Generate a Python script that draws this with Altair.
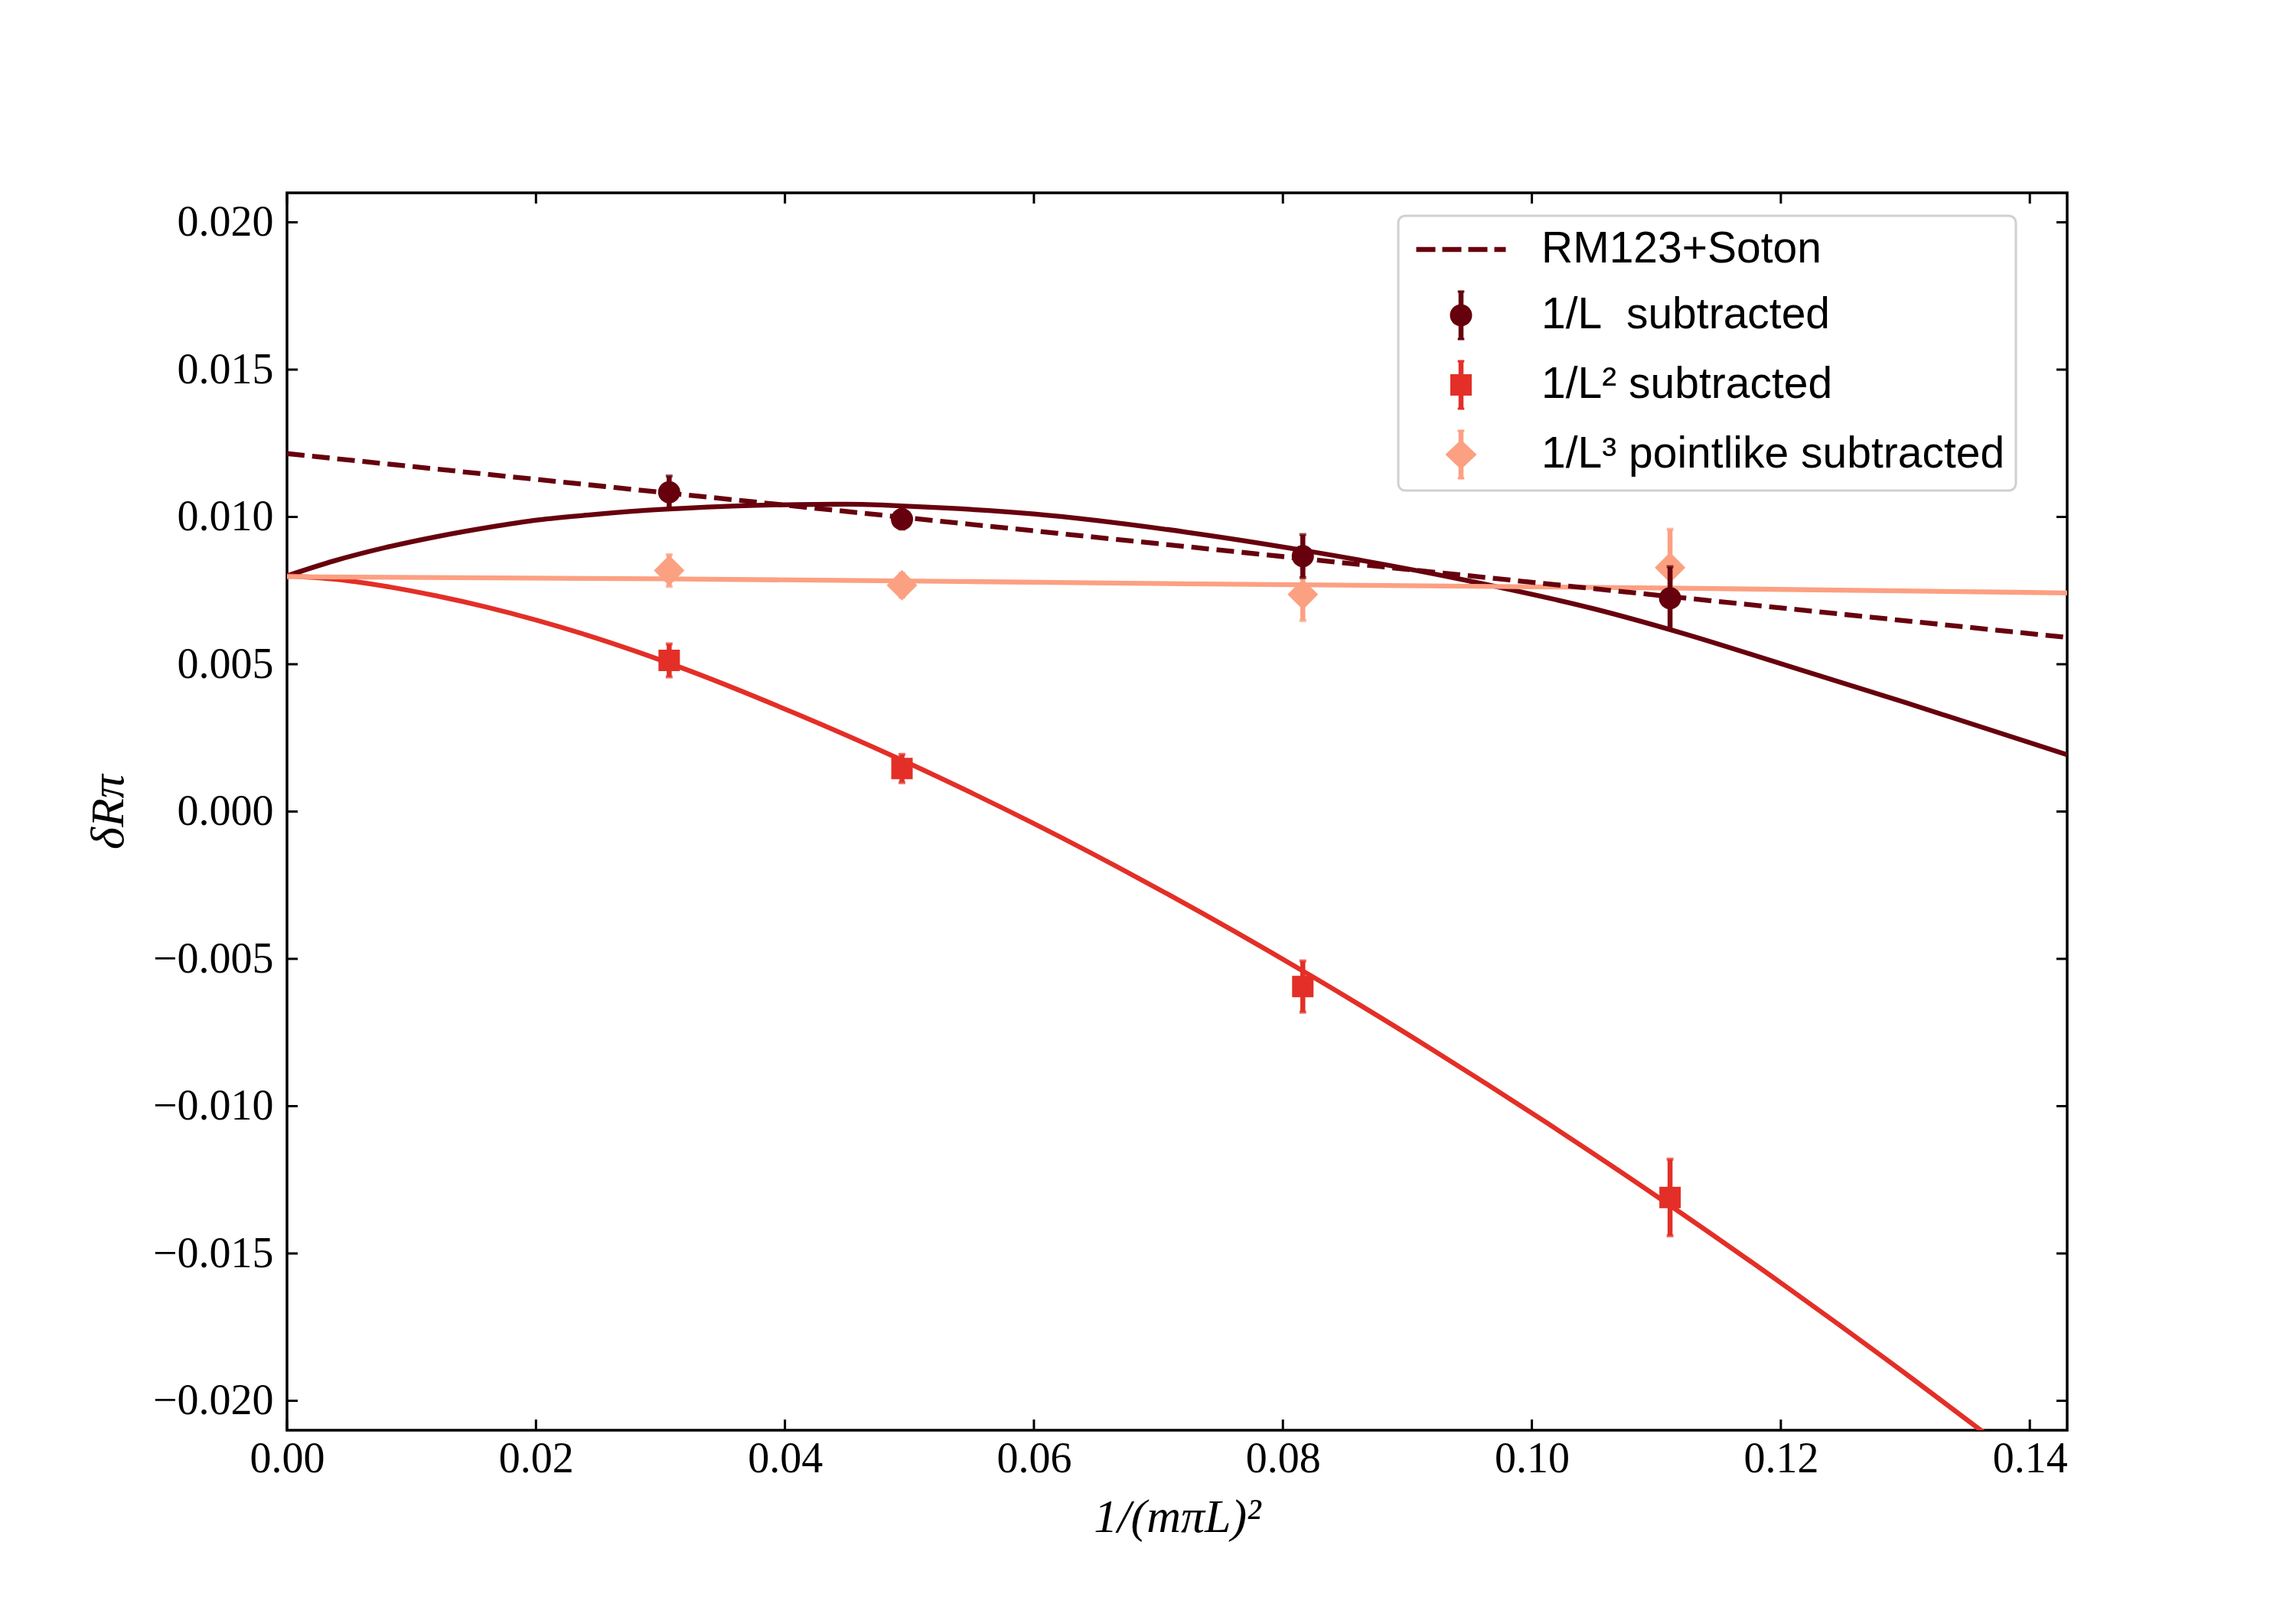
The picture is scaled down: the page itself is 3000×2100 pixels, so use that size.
import altair as alt
import pandas as pd

# ---------------- data ----------------
pt_x = [0.0307, 0.0494, 0.0816, 0.1111]

L1_y = [0.01084, 0.00992, 0.00867, 0.00724]
L1_err = [0.00055, 0.00033, 0.00073, 0.00107]

L2_y = [0.00513, 0.00146, -0.00594, -0.01310]
L2_err = [0.00056, 0.00048, 0.00087, 0.00130]

L3_y = [0.00818, 0.00768, 0.00737, 0.00828]
L3_err = [0.00054, 0.00040, 0.00089, 0.00130]

fitL1_x = [0.0, 0.0038, 0.0079, 0.0120, 0.0161, 0.0202, 0.0243, 0.0284, 0.0317,
           0.0410, 0.0450, 0.0500, 0.0600, 0.0723, 0.0816, 0.0948, 0.1050,
           0.1122, 0.1200, 0.1300, 0.1430]
fitL1_y = [0.00800, 0.00851, 0.00896, 0.00933, 0.00964, 0.00990, 0.01007, 0.01021,
           0.01029, 0.01042, 0.01043, 0.01036, 0.01010, 0.00948, 0.00887, 0.00784,
           0.00688, 0.00604, 0.00502, 0.00370, 0.00193]

fitL2_x = [0.0, 0.004, 0.008, 0.012, 0.016, 0.020, 0.024, 0.028, 0.032, 0.041,
           0.049, 0.060, 0.069, 0.082, 0.092, 0.101, 0.111, 0.1205, 0.1305, 0.1365]
fitL2_y = [0.00800, 0.00788, 0.00764, 0.00732, 0.00694, 0.00650, 0.00600, 0.00544,
           0.00483, 0.00330, 0.00182, -0.00041, -0.00240, -0.00551, -0.00808,
           -0.01051, -0.01334, -0.01615, -0.01923, -0.02114]

fitL3_x = [0.0, 0.030, 0.054, 0.072, 0.112, 0.143]
fitL3_y = [0.00797, 0.00790, 0.00781, 0.00773, 0.00758, 0.00742]

rm_x = [0.0, 0.0723, 0.143]
rm_y = [0.01215, 0.00899, 0.00591]

x_ticks = [0.00, 0.02, 0.04, 0.06, 0.08, 0.10, 0.12, 0.14]
y_ticks = [-0.020, -0.015, -0.010, -0.005, 0.000, 0.005, 0.010, 0.015, 0.020]

legend_labels = ["RM123+Soton", "1/L\u00a0\u00a0subtracted", "1/L² subtracted",
                 "1/L³ pointlike subtracted"]

DARK = "#67000d"
RED = "#e32f27"
SALMON = "#fca082"
legend_colors = [DARK, DARK, RED, SALMON]

# ---------------- legend symbol paths (pixel design -> unit box) ----------------
SYM_D = 60          # sqrt(symbolSize)
K = SYM_D / 2.0     # pixels per path unit
SHIFT = 38.0        # move the drawn symbol right inside its slot


def u(v):
    return round(v / K, 4)


def rect(x0, y0, x1, y1):
    x0 += SHIFT
    x1 += SHIFT
    return f"M{u(x0)},{u(y0)}H{u(x1)}V{u(y1)}H{u(x0)}Z"


def circle(r):
    a, b = u(-r + SHIFT), u(r + SHIFT)
    return f"M{a},0A{u(r)},{u(r)} 0 1 1 {b},0A{u(r)},{u(r)} 0 1 1 {a},0Z"


def diamond(w, h):
    c = SHIFT
    return (f"M{u(c)},{u(-h)}L{u(c + w)},0L{u(c)},{u(h)}L{u(c - w)},0Z")


bar = (rect(-3.25, -31.5, 3.25, -12) + rect(-3.25, 12, 3.25, 31.5)
       + rect(-4.3, -32.5, 4.3, -29.5) + rect(-4.3, 29.5, 4.3, 32.5))
sym_dash = (rect(-58.5, -3.15, -33.5, 3.15) + rect(-24.5, -3.15, 0.5, 3.15)
            + rect(9.5, -3.15, 34.5, 3.15) + rect(43.5, -3.15, 58.5, 3.15))
sym_circle = bar + circle(14.5)
sym_square = bar + rect(-14, -14, 14, 14)
sym_diamond = bar + diamond(20.5, 19.5)
legend_shapes = [sym_dash, sym_circle, sym_square, sym_diamond]

# ---------------- layout ----------------
W, H = 2326, 1617
TICK = 14

xs = alt.Scale(domain=[0, 0.143], nice=False, zero=False)
ys = alt.Scale(domain=[-0.021, 0.021], nice=False, zero=False)
xaxis = alt.Axis(title="1/(mπL)²", values=x_ticks, format=".2f", labelFlush=False)
yaxis = alt.Axis(title="δRπ", values=y_ticks, format=".3f", labelFlush=False)


def X(f):
    return alt.X(f, type="quantitative", scale=xs, axis=xaxis)


def Y(f):
    return alt.Y(f, type="quantitative", scale=ys, axis=yaxis)


def line_layer(xv, yv, color, dash=None):
    df = pd.DataFrame({"x": xv, "y": yv})
    kw = dict(color=color, strokeWidth=6.3, interpolate="monotone", clip=True)
    if dash:
        kw["strokeDash"] = dash
    return alt.Chart(df).mark_line(**kw).encode(x=X("x"), y=Y("y"))


def point_layers(yv, err, color, shape, size):
    df = pd.DataFrame({"x": pt_x, "y": yv,
                       "lo": [a - b for a, b in zip(yv, err)],
                       "hi": [a + b for a, b in zip(yv, err)]})
    base = alt.Chart(df)
    bars = base.mark_rule(color=color, strokeWidth=6.5).encode(
        x=X("x"), y=Y("lo"), y2="hi")
    cap_lo = base.mark_tick(color=color, orient="horizontal", size=9,
                            thickness=4).encode(x=X("x"), y=Y("lo"))
    cap_hi = base.mark_tick(color=color, orient="horizontal", size=9,
                            thickness=4).encode(x=X("x"), y=Y("hi"))
    pts = base.mark_point(shape=shape, size=size, filled=True, color=color,
                          opacity=1).encode(x=X("x"), y=Y("y"))
    return [bars, cap_lo, cap_hi, pts]


lines = [
    line_layer(fitL1_x, fitL1_y, DARK),
    line_layer(fitL2_x, fitL2_y, RED),
    line_layer(fitL3_x, fitL3_y, SALMON),
    line_layer(rm_x, rm_y, DARK, dash=[23, 10]),
]

points = (point_layers(L3_y, L3_err, SALMON, "diamond", 1600)
          + point_layers(L2_y, L2_err, RED, "square", 784)
          + point_layers(L1_y, L1_err, DARK, "circle", 841))

# inward ticks on all four sides
xt = alt.Chart(pd.DataFrame({"t": x_ticks}))
yt = alt.Chart(pd.DataFrame({"t": y_ticks}))
tick_layers = [
    xt.mark_rule(color="black", strokeWidth=3).encode(
        x=X("t"), y=alt.value(H), y2=alt.value(H - TICK)),
    xt.mark_rule(color="black", strokeWidth=3).encode(
        x=X("t"), y=alt.value(0), y2=alt.value(TICK)),
    yt.mark_rule(color="black", strokeWidth=3).encode(
        y=Y("t"), x=alt.value(0), x2=alt.value(TICK)),
    yt.mark_rule(color="black", strokeWidth=3).encode(
        y=Y("t"), x=alt.value(W), x2=alt.value(W - TICK)),
]


def make_legend():
    return alt.Legend(
        title=None, orient="none", legendX=1452, legendY=30,
        symbolSize=SYM_D * SYM_D, symbolStrokeWidth=0, symbolOpacity=1,
        labelFont="Liberation Sans", labelFontSize=57,
        labelColor="black", labelLimit=1200,
        padding=14, labelOffset=113, rowPadding=25,
        fillColor="white", strokeColor="#d0d0d0", cornerRadius=9)


# legend carrier (marks clipped away, legend only)
legend_layer = alt.Chart(pd.DataFrame({"series": legend_labels})).mark_point(
    filled=True, opacity=1, clip=True
).encode(
    x=alt.value(-400), y=alt.value(-400),
    color=alt.Color("series:N",
                    scale=alt.Scale(domain=legend_labels, range=legend_colors),
                    legend=make_legend()),
    shape=alt.Shape("series:N",
                    scale=alt.Scale(domain=legend_labels, range=legend_shapes),
                    legend=make_legend()),
)

chart = alt.layer(*lines, *points, *tick_layers, legend_layer).properties(
    width=W, height=H,
    padding={"left": 367, "top": 244, "right": 291, "bottom": 223},
    autosize=alt.AutoSizeParams(type="none"),
).configure_view(
    stroke="black", strokeWidth=3.5
).configure_axis(
    domain=False, ticks=False, grid=False,
    labelFont="Liberation Serif", labelFontSize=56, labelColor="black",
    titleFont="Liberation Serif", titleFontSize=62, titleFontStyle="italic",
    titleFontWeight="normal", titleColor="black",
).configure_axisX(
    labelPadding=10, titlePadding=18
).configure_axisY(
    labelPadding=18, titlePadding=26
)

opts = {"renderer": "svg", "actions": False}
try:
    chart.configure_legend(strokeWidth=3).save("out.html", embed_options=opts)
except Exception:
    chart.save("out.html", embed_options=opts)
